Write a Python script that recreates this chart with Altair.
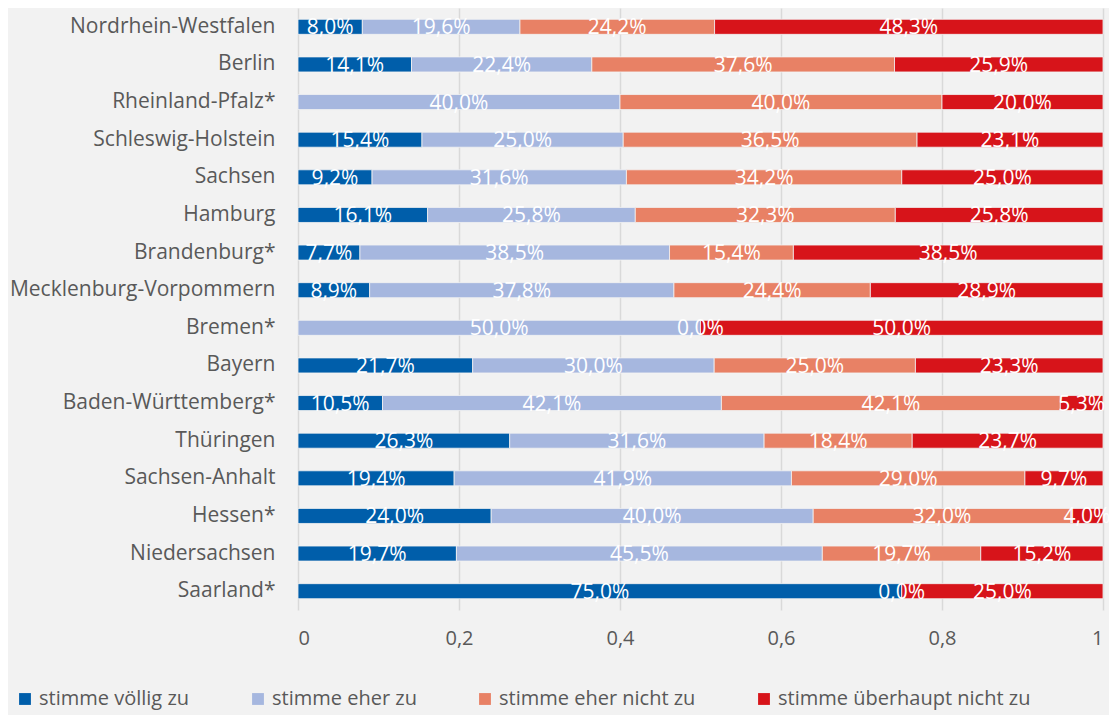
import altair as alt
import pandas as pd

states = ["Nordrhein-Westfalen", "Berlin", "Rheinland-Pfalz*", "Schleswig-Holstein",
          "Sachsen", "Hamburg", "Brandenburg*", "Mecklenburg-Vorpommern", "Bremen*",
          "Bayern", "Baden-Württemberg*", "Thüringen", "Sachsen-Anhalt", "Hessen*",
          "Niedersachsen", "Saarland*"]
categories = ["stimme völlig zu", "stimme eher zu", "stimme eher nicht zu", "stimme überhaupt nicht zu"]
colors = ["#005eaa", "#a6b7df", "#e88165", "#d7141a"]

voellig_zu = [8.0, 14.1, None, 15.4, 9.2, 16.1, 7.7, 8.9, None, 21.7, 10.5, 26.3, 19.4, 24.0, 19.7, 75.0]
eher_zu = [19.6, 22.4, 40.0, 25.0, 31.6, 25.8, 38.5, 37.8, 50.0, 30.0, 42.1, 31.6, 41.9, 40.0, 45.5, None]
eher_nicht_zu = [24.2, 37.6, 40.0, 36.5, 34.2, 32.3, 15.4, 24.4, 0.0, 25.0, 42.1, 18.4, 29.0, 32.0, 19.7, 0.0]
ueberhaupt_nicht_zu = [48.3, 25.9, 20.0, 23.1, 25.0, 25.8, 38.5, 28.9, 50.0, 23.3, 5.3, 23.7, 9.7, 4.0, 15.2, 25.0]

series = [voellig_zu, eher_zu, eher_nicht_zu, ueberhaupt_nicht_zu]
rows = []
for ci, (cat, vals) in enumerate(zip(categories, series)):
    for s, v in zip(states, vals):
        if v is None:
            continue
        rows.append({"state": s, "cat": cat, "order": ci, "value": v,
                     "label": f"{v:.1f}%".replace(".", ",")})
df = pd.DataFrame(rows)

font = "Open Sans"
grey = "#595959"
base = alt.Chart(df).transform_stack(
    stack="value", groupby=["state"], sort=[alt.SortField("order")], offset="normalize",
    as_=["x0", "x1"]
).transform_calculate(mid="(datum.x0 + datum.x1) / 2")

y = alt.Y("state:N", sort=states, title=None,
          scale=alt.Scale(paddingInner=0.6, paddingOuter=0.3),
          axis=alt.Axis(domain=False, ticks=False, labelFontSize=21, labelColor=grey,
                        labelFont=font, labelPadding=23, labelLimit=400))

bars = base.mark_bar(stroke="#f2f2f2", strokeWidth=0.8).encode(
    x=alt.X("x0:Q", title=None, scale=alt.Scale(domain=[0, 1], nice=False),
            axis=alt.Axis(values=[0, 0.2, 0.4, 0.6, 0.8, 1], domain=False, ticks=False,
                          labelExpr="replace(format(datum.value, '.1~f'), '.', ',')",
                          labelFontSize=20, labelColor=grey, labelFont=font,
                          labelPadding=18, gridColor="#d9d9d9", gridWidth=1.5)),
    x2="x1:Q",
    y=y,
    color=alt.Color("cat:N", scale=alt.Scale(domain=categories, range=colors), title=None,
                    legend=alt.Legend(orient="none", legendX=-283, legendY=681,
                                      direction="horizontal", columns=4, columnPadding=58,
                                      symbolType="square", symbolSize=140,
                                      symbolStrokeWidth=0, symbolOpacity=1,
                                      labelFontSize=20, labelColor=grey, labelFont=font,
                                      labelOffset=4, labelLimit=400)),
)

text = base.mark_text(color="white", fontSize=21, font=font, baseline="alphabetic", dy=7.5).encode(
    x="mid:Q", y=alt.Y("state:N", sort=states), text="label:N"
)

chart = (bars + text).properties(
    width=805, height=602, background="#f2f2f2",
    autosize=alt.AutoSizeParams(type="none"),
    padding={"left": 290, "top": 0, "right": 6, "bottom": 105}
).configure_view(stroke=None)

chart.save("out.html", embed_options={"renderer": "svg", "actions": False})
